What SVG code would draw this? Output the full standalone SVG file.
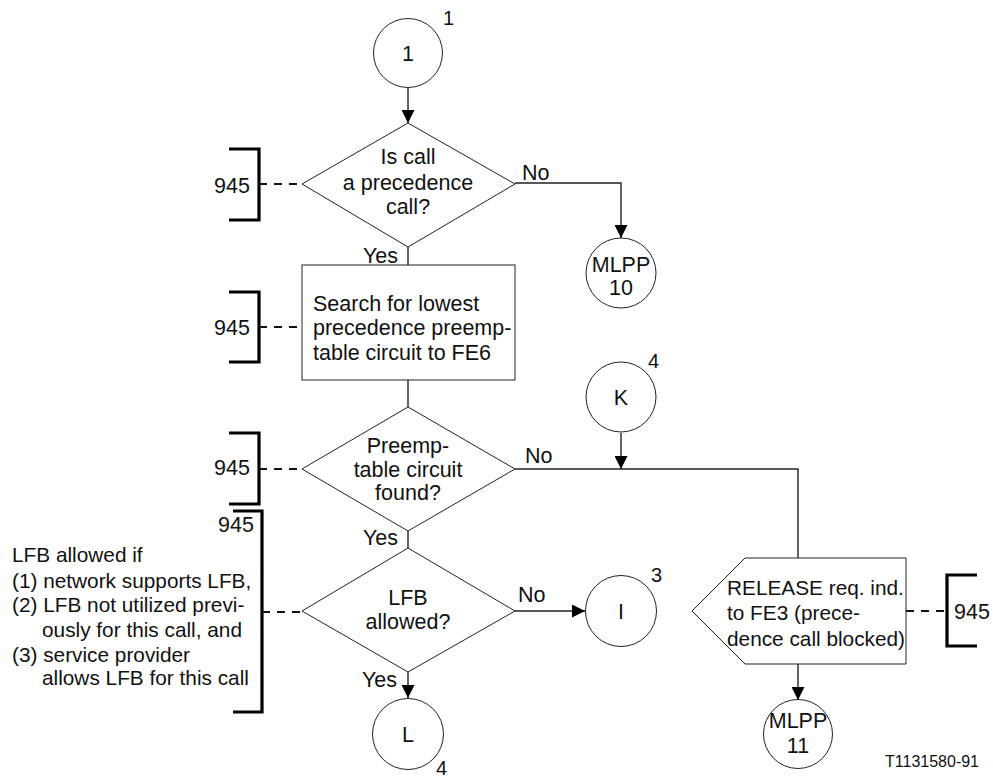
<svg xmlns="http://www.w3.org/2000/svg" width="993" height="778" viewBox="0 0 993 778">
  <style>
    text { font-family: "Liberation Sans", Arial, sans-serif; font-size: 21.5px; fill: #111; }
    .c { text-anchor: middle; }
    .sup { font-size: 20px; }
    .sig { font-size: 20.8px; }
    .shape { fill: #fff; stroke: #222; stroke-width: 1; }
    .flow { fill: none; stroke: #222; stroke-width: 1.4; }
    .dash { fill: none; stroke: #111; stroke-width: 2; stroke-dasharray: 8 7; }
    .brk { fill: none; stroke: #000; stroke-width: 3.2; }
    .ref { font-size: 16px; }
  </style>
  <defs>
    <marker id="arrow" viewBox="0 0 13 13" refX="13" refY="6.5" markerWidth="13" markerHeight="13" markerUnits="userSpaceOnUse" orient="auto">
      <path d="M0,0 L13,6.5 L0,13 z" fill="#000"/>
    </marker>
  </defs>

  <!-- connectors -->
  <g id="connectors">
    <line class="flow" x1="408" y1="87" x2="408" y2="123" marker-end="url(#arrow)"/>
    <polyline class="flow" points="515,183 621,183 621,238" marker-end="url(#arrow)"/>
    <line class="flow" x1="408" y1="247" x2="408" y2="265"/>
    <line class="flow" x1="408" y1="380" x2="408" y2="407"/>
    <polyline class="flow" points="515,469 798,469 798,558"/>
    <line class="flow" x1="621" y1="433" x2="621" y2="469" marker-end="url(#arrow)"/>
    <line class="flow" x1="408" y1="531" x2="408" y2="548"/>
    <line class="flow" x1="515" y1="611" x2="585" y2="611" marker-end="url(#arrow)"/>
    <line class="flow" x1="408" y1="672" x2="408" y2="698" marker-end="url(#arrow)"/>
    <line class="flow" x1="798" y1="664" x2="798" y2="700" marker-end="url(#arrow)"/>
    <!-- branch labels -->
    <text x="522" y="180">No</text>
    <text x="363" y="263">Yes</text>
    <text x="525" y="463">No</text>
    <text x="363" y="545">Yes</text>
    <text x="518" y="602">No</text>
    <text x="362" y="687">Yes</text>
  </g>

  <!-- connector 1 -->
  <g id="start1">
    <circle class="shape" cx="408" cy="53" r="34.5"/>
    <text class="c" x="408" y="61">1</text>
    <text class="sup" x="443" y="25">1</text>
  </g>

  <!-- decision: precedence call -->
  <g id="q-precedence">
    <polygon class="shape" points="408,123 515,184 408,247 302,184"/>
    <text class="c" x="408" y="164">Is call</text>
    <text class="c" x="408" y="190">a precedence</text>
    <text class="c" x="408" y="214">call?</text>
  </g>
  <g id="ann1">
    <path class="brk" d="M229,149 H259 V220 H229"/>
    <line class="dash" x1="259" y1="184" x2="302" y2="184"/>
    <text x="214" y="193">945</text>
  </g>

  <!-- MLPP 10 -->
  <g id="mlpp10">
    <circle class="shape" cx="621" cy="273" r="35"/>
    <text class="c" x="621" y="272">MLPP</text>
    <text class="c" x="621" y="295">10</text>
  </g>

  <!-- search action -->
  <g id="search">
    <rect class="shape" x="302" y="265" width="213" height="115"/>
    <text x="313" y="311">Search for lowest</text>
    <text x="313" y="335">precedence preemp-</text>
    <text x="313" y="360">table circuit to FE6</text>
  </g>
  <g id="ann2">
    <path class="brk" d="M229,292 H259 V362 H229"/>
    <line class="dash" x1="259" y1="327" x2="302" y2="327"/>
    <text x="214" y="335">945</text>
  </g>

  <!-- connector K -->
  <g id="connK">
    <circle class="shape" cx="621" cy="397" r="35"/>
    <text class="c" x="621" y="405">K</text>
    <text class="sup" x="648" y="368">4</text>
  </g>

  <!-- decision: circuit found -->
  <g id="q-found">
    <polygon class="shape" points="408,407 515,469 408,531 302,469"/>
    <text class="c" x="408" y="453">Preemp-</text>
    <text class="c" x="408" y="477">table circuit</text>
    <text class="c" x="408" y="500">found?</text>
  </g>
  <g id="ann3">
    <path class="brk" d="M229,433 H259 V504 H229"/>
    <line class="dash" x1="259" y1="469" x2="302" y2="469"/>
    <text x="214" y="475">945</text>
  </g>

  <!-- decision: LFB allowed -->
  <g id="q-lfb">
    <polygon class="shape" points="408,548 515,611 408,672 302,611"/>
    <text class="c" x="408" y="605">LFB</text>
    <text class="c" x="408" y="629">allowed?</text>
  </g>
  <g id="ann4">
    <path class="brk" d="M233,511 H262 V712 H233"/>
    <line class="dash" x1="262" y1="612" x2="302" y2="612"/>
    <text x="218" y="532">945</text>
    <text class="sig" x="12" y="562">LFB allowed if</text>
    <text class="sig" x="12" y="588">(1) network supports LFB,</text>
    <text class="sig" x="12" y="612">(2) LFB not utilized previ-</text>
    <text class="sig" x="42" y="637">ously for this call, and</text>
    <text class="sig" x="12" y="662">(3) service provider</text>
    <text class="sig" x="42" y="685">allows LFB for this call</text>
  </g>

  <!-- connector I -->
  <g id="connI">
    <circle class="shape" cx="621" cy="611" r="35.5"/>
    <text class="c" x="621" y="619">I</text>
    <text class="sup" x="651" y="582">3</text>
  </g>

  <!-- connector L -->
  <g id="connL">
    <circle class="shape" cx="408" cy="734" r="35.5"/>
    <text class="c" x="408" y="742">L</text>
    <text class="sup" x="436" y="775">4</text>
  </g>

  <!-- output signal: RELEASE -->
  <g id="release">
    <polygon class="shape" points="692,611 745,558 906,558 906,664 745,664"/>
    <text class="sig" x="727" y="595">RELEASE req. ind.</text>
    <text class="sig" x="727" y="620">to FE3 (prece-</text>
    <text class="sig" x="727" y="646">dence call blocked)</text>
  </g>
  <g id="ann5">
    <line class="dash" x1="906" y1="611" x2="947" y2="611"/>
    <path class="brk" d="M977,575 H947 V646 H977"/>
    <text x="954" y="619">945</text>
  </g>

  <!-- MLPP 11 -->
  <g id="mlpp11">
    <circle class="shape" cx="798" cy="734" r="34.5"/>
    <text class="c" x="798" y="728">MLPP</text>
    <text class="c" x="798" y="753">11</text>
  </g>

  <text class="ref" x="885" y="767">T1131580-91</text>
</svg>
